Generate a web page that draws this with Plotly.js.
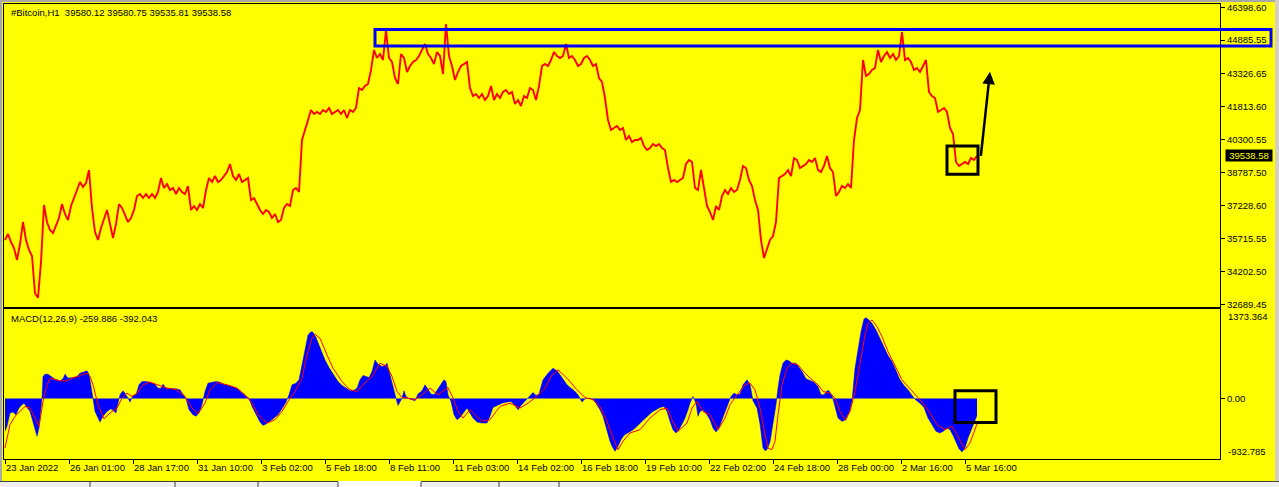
<!DOCTYPE html>
<html>
<head>
<meta charset="utf-8">
<script src="https://cdn.plot.ly/plotly-3.0.1.min.js"></script>
<style>html,body{margin:0;padding:0;background:#FFFF00;}#chart{width:1279px;height:487px;}</style>
</head>
<body>
<div id="chart"></div>
<script>
// ---------- DATA ----------
// Bitcoin H1 close, one reading every 3 bars (bar 0 = 23 Jan 2022 00:00)
const priceStep = 3;
const price = [
35658,35935,35565,35288,34734,35473,36488,35658,35196,34919,33200,32990,34642,37273,36488,36119,35981,36304,36673,37319,
36858,36581,37227,37596,37966,38335,38104,38289,38889,37135,36027,35658,36212,36673,37042,36396,35750,36396,37319,37135,
36765,36488,36673,37042,37689,37781,37596,37781,37596,37781,37596,37873,38520,38058,38243,37966,38058,37781,38058,37873,
37781,38150,37042,37227,37042,37319,37135,37966,38520,38335,38612,38335,38427,38612,38796,39166,38612,38427,38704,38335,
38427,38520,37504,37596,37319,37042,36858,37042,36950,36673,36858,36488,36581,37135,37319,37227,37966,38058,37873,40274,
40735,41197,41658,41474,41566,41474,41658,41566,41751,41474,41566,41658,41474,41658,41289,41658,41566,41751,42674,42582,
42766,42859,43505,44428,44059,44243,43966,45351,44059,43874,43136,42859,44243,44059,43412,43689,43874,43966,44151,44428,
44705,44243,44059,43782,44336,44151,43320,45628,44151,43689,43043,43412,43689,43782,43874,42674,42305,42397,42212,42397,
42120,42305,42766,42120,42397,42212,42489,42582,42397,42489,41935,42120,41843,42305,42212,42674,42582,42120,42766,43689,
43782,43689,43966,44336,44151,44059,44151,44705,44059,44151,43966,43689,43782,44059,44151,43966,43689,43782,43136,42951,
42212,41197,40735,40828,40920,40735,40828,40274,40458,40181,40274,40274,40366,39997,39812,39904,40089,39997,40089,39904,
39812,38981,38335,38427,38335,38427,38520,39166,39350,39258,38058,37966,38889,38058,37227,36950,36581,37227,37042,37689,
37966,37781,38058,37873,37966,38427,39073,38981,38427,38150,37504,37042,35658,34827,35288,35658,35842,36488,38520,38612,
38704,38889,38612,39443,39350,38981,39073,39166,39350,39258,39443,38889,38796,39073,39535,38981,38796,37689,37873,38150,
38058,38243,38058,40274,41289,41658,43966,43228,43320,43505,43597,44428,43874,44151,44336,44059,44243,43966,44151,45259,
43966,44059,43874,43505,43597,43412,43689,43966,42489,42305,42212,41566,41658,41751,41566,40828,40551,39258,39073,39166,
39258,39166,39443,39350,39538.58
];

// MACD(12,26,9) main line (histogram) and signal line, by bar index
const histBar = [0,2,5,8,11,14,17,19,22,25,28,31,32,34,36,37,38,40,43,46,50,55,58,60,63,68,72,75,79,82,84,86,88,90,93,95,98,102,106,109,111,113,115,118,120,123,125,128,131,134,137,141,145,150,153,156,158,161,166,171,175,178,181,184,188,191,194,197,200,203,207,211,215,220,225,229,233,237,241,244,247,251,255,258,261,265,269,273,277,281,284,287,291,294,297,300,303,306,308,311,315,320,324,328,333,337,341,345,348,352,355,358,361,364,367,370,373,377,380,382,385,388,391,393,395,397,399,401,404,407,410,413,417,420,423,426,429,432,436,439,441,443,446,449,452,455,459,462,465,468,472,477,482,485,488,492,497,502,506,510,513,516,520,523,526,528,531,534,538,543,548,552,555,559,562,566,569,573,575,577,580,583,586,589,592,595,598,602,605,607,610,613,616,619,623,627,631,635,639,643,647,651,655,659,662,665,668,671,674,677,680,683,685,688,691,693,695,698,702,705,708,711,714,717,720,723,726,729,732,735,738,742,745,748,752,755,758,760,762,765,768,771,773,775,778,781,784,787,791,794,797,801,805,809,813,816,819,822,824,827,830,833,837,841,844,847,850,853,856,859,861,864,867,871,875,879,883,887,891,895,899,903,907,911,915,919,923,927,931,935,939,942,945,948,951,954,957,960,963,966,969,972];
const histVal = [-507,-430,-225,-210,-251,-148,-97,-72,-138,-200,-364,-558,-584,-456,-200,5,338,374,374,338,297,271,302,374,312,323,338,389,404,425,374,210,0,-200,-312,-364,-276,-200,-159,-200,-225,-72,56,118,82,5,-56,46,56,210,261,261,251,220,159,159,220,159,159,148,133,56,-5,-174,-251,-276,-225,-97,108,236,246,261,251,210,195,169,148,82,31,5,-123,-251,-364,-415,-394,-353,-302,-251,-159,-56,56,210,236,287,517,773,978,1029,1019,937,773,594,476,374,261,200,159,123,118,159,287,353,338,323,415,594,527,492,507,543,364,159,5,-108,-46,5,118,31,-5,-20,-36,67,118,210,133,67,56,133,220,287,261,56,-46,-251,-328,-292,-200,-148,-225,-302,-364,-379,-379,-276,-138,-108,-72,-56,-46,-108,-174,-108,-46,15,56,92,46,67,287,389,466,425,364,271,210,159,123,56,-5,-56,-5,5,5,-26,-97,-174,-276,-507,-660,-737,-814,-737,-635,-568,-532,-492,-445,-379,-323,-266,-210,-174,-138,-123,-200,-353,-481,-532,-481,-394,-302,-174,-72,31,-72,-276,-200,-174,-251,-328,-456,-517,-456,-328,-200,-72,31,82,56,67,210,287,220,-36,-148,-394,-763,-804,-788,-671,-415,-97,159,364,543,594,579,543,543,476,415,302,271,251,184,56,56,118,118,46,-123,-302,-353,-328,-225,-46,466,773,1029,1224,1244,1208,1157,1055,927,783,660,568,415,287,200,133,46,-26,-72,-138,-302,-415,-507,-532,-497,-456,-481,-568,-686,-773,-824,-763,-609,-507,-379,-259.886];
const sigBar = [0,5,10,15,20,25,30,34,38,42,45,50,55,62,67,73,78,82,85,88,93,99,105,112,117,122,127,132,138,145,152,162,172,180,187,193,200,205,212,222,232,240,247,253,262,270,277,283,290,297,302,307,310,315,322,328,337,345,352,358,367,375,382,387,392,397,403,410,417,425,433,443,448,453,458,465,470,477,485,495,505,515,523,532,540,547,553,562,572,580,588,595,602,608,613,618,625,635,645,655,662,667,673,682,687,692,698,705,713,720,725,730,740,745,750,755,760,763,767,770,773,777,782,787,793,800,807,813,818,825,830,835,840,845,850,855,860,863,867,872,877,883,890,897,903,912,918,925,932,940,947,952,957,960,965,972];
const sigVal = [-763,-404,-276,-200,-123,-148,-302,-430,-46,210,312,287,271,271,312,338,374,389,338,210,-97,-312,-225,-148,5,82,31,82,210,251,210,159,133,31,-148,-236,-72,133,246,210,159,56,-72,-251,-379,-328,-200,-46,108,312,671,927,988,927,671,466,261,133,108,210,338,543,492,338,108,15,5,-20,56,159,56,169,5,-200,-302,-174,-251,-353,-328,-123,-72,-148,-72,31,159,364,440,312,133,15,-20,-123,-353,-609,-788,-660,-532,-481,-302,-174,-148,-328,-507,-379,-148,-46,-200,-251,-481,-302,-97,15,210,236,133,-148,-558,-763,-788,-660,-251,210,466,543,517,389,287,210,108,82,5,-200,-328,-200,108,517,978,1157,1208,1106,952,722,492,287,184,31,-72,-225,-404,-481,-430,-558,-712,-788,-686,-392.043];

// Axis labels
const priceTicks = [46398.60,44885.55,43326.65,41813.60,40300.55,38787.50,37228.60,35715.55,34202.50,32689.45];
const timeTickBars = [0,64,128,192,256,320,384,448,512,576,640,704,768,832,896,960];
const timeTickText = ['23 Jan 2022','26 Jan 01:00','28 Jan 17:00','31 Jan 10:00','3 Feb 02:00','5 Feb 18:00','8 Feb 11:00','11 Feb 03:00','14 Feb 02:00','16 Feb 18:00','19 Feb 10:00','22 Feb 02:00','24 Feb 18:00','28 Feb 00:00','2 Mar 16:00','5 Mar 16:00'];
const headerText = '#Bitcoin,H1 \u00a039580.12 39580.75 39535.81 39538.58';
const macdText = 'MACD(12,26,9) -259.886 -392.043';
const lastPrice = 39538.58;
const macdMax = 1373.364, macdMin = -932.785;
// annotation objects (drawn by the chart author)
const zoneBar0 = 370, zoneTop = 45375, zoneBottom = 44610;
const boxBar = [942, 973], boxPrice = [38690, 39996];
const macdBoxBar = [950, 991], macdBoxVal = [-370, 117];
const arrowFrom = [975.7, 39475], arrowTo = [985, 43426];

// ---------- LAYOUT ----------
const W = 1279, H = 487, ML = 4, MR = 59, MT = 4, MB = 28;
const PW = W - ML - MR, PH = H - MT - MB;
const XR = [-1, 1215];
const YR = [32579, 46551];
const PD = [0.3347, 1];
const MD = [0, 0.329];
const pxX = p => (p - ML) / PW;
const pxY = p => (H - MB - p) / PH;
const barX = b => (b - XR[0]) / (XR[1] - XR[0]);
const priceY = v => PD[0] + (v - YR[0]) / (YR[1] - YR[0]) * (PD[1] - PD[0]);

const FONT = {family: 'Liberation Sans, Arial, sans-serif', size: 9.5, color: '#000000'};
const YEL = '#FFFF00';

const priceBars = price.map((_, i) => i * priceStep);

const traces = [
  {x: priceBars, y: price, type: 'scatter', mode: 'lines', line: {color: '#FF0000', width: 1.9}, xaxis: 'x', yaxis: 'y', hoverinfo: 'skip'},
  {x: histBar, y: histVal, type: 'scatter', mode: 'lines', fill: 'tozeroy', fillcolor: '#0000FF', line: {color: '#0000FF', width: 0.5}, xaxis: 'x2', yaxis: 'y2', hoverinfo: 'skip'},
  {x: sigBar, y: sigVal, type: 'scatter', mode: 'lines', line: {color: '#FF0000', width: 1}, xaxis: 'x2', yaxis: 'y2', hoverinfo: 'skip'}
];

const axCommon = {showgrid: false, zeroline: false, showline: true, mirror: true, linecolor: '#000000', linewidth: 1, tickcolor: '#000000', tickfont: FONT, fixedrange: true, tickangle: 0, automargin: false};

const tabEdges = [90, 175, 258, 338, 421, 499, 559];
const tabShapes = tabEdges.map(px => ({type: 'line', xref: 'paper', yref: 'paper', x0: pxX(px), x1: pxX(px), y0: pxY(H), y1: pxY(482), line: {color: '#404040', width: 1}, layer: 'above'}));

const layout = {
  width: W, height: H,
  margin: {l: ML, r: MR, t: MT, b: MB, pad: 0},
  paper_bgcolor: YEL, plot_bgcolor: YEL,
  showlegend: false, hovermode: false,
  xaxis: Object.assign({}, axCommon, {domain: [0, 1], range: XR, anchor: 'y', showticklabels: false, ticks: ''}),
  yaxis: Object.assign({}, axCommon, {domain: PD, range: YR, side: 'right', anchor: 'x', tickmode: 'array', tickvals: priceTicks, ticktext: priceTicks.map(v => v.toFixed(2)), ticks: 'outside', ticklen: 4}),
  xaxis2: Object.assign({}, axCommon, {domain: [0, 1], range: XR, anchor: 'y2', tickmode: 'array', tickvals: timeTickBars, ticktext: timeTickText, ticks: 'outside', ticklen: 4, ticklabelposition: 'outside right', tickangle: 0}),
  yaxis2: Object.assign({}, axCommon, {domain: MD, range: [macdMin, macdMax], side: 'right', anchor: 'x2', tickmode: 'array', tickvals: [0], ticktext: ['0.00'], ticks: 'outside', ticklen: 4}),
  shapes: [
    // window frame
    {type: 'rect', xref: 'paper', yref: 'paper', x0: pxX(0), x1: pxX(2), y0: pxY(H), y1: pxY(0), fillcolor: '#A8A8A8', line: {width: 0}, layer: 'above'},
    {type: 'rect', xref: 'paper', yref: 'paper', x0: pxX(0), x1: pxX(W), y0: pxY(2), y1: pxY(0), fillcolor: '#A8A8A8', line: {width: 0}, layer: 'above'},
    {type: 'rect', xref: 'paper', yref: 'paper', x0: pxX(1275), x1: pxX(W), y0: pxY(481), y1: pxY(0), fillcolor: '#D4D0C8', line: {width: 0}, layer: 'above'},
    {type: 'rect', xref: 'paper', yref: 'paper', x0: pxX(0), x1: pxX(W), y0: pxY(H), y1: pxY(481), fillcolor: '#F0F0F0', line: {width: 0}, layer: 'above'},
    {type: 'rect', xref: 'paper', yref: 'paper', x0: pxX(338), x1: pxX(421), y0: pxY(H), y1: pxY(481), fillcolor: '#FFFFFF', line: {width: 0}, layer: 'above'},
    {type: 'line', xref: 'paper', yref: 'paper', x0: pxX(0), x1: pxX(338), y0: pxY(481.5), y1: pxY(481.5), line: {color: '#404040', width: 1}, layer: 'above'},
    {type: 'line', xref: 'paper', yref: 'paper', x0: pxX(421), x1: pxX(W), y0: pxY(481.5), y1: pxY(481.5), line: {color: '#404040', width: 1}, layer: 'above'},
    ...tabShapes,
    // resistance zone
    {type: 'rect', xref: 'paper', yref: 'paper', x0: barX(zoneBar0), x1: pxX(1271), y0: priceY(zoneBottom), y1: priceY(zoneTop), line: {color: '#0000FF', width: 3}, fillcolor: 'rgba(0,0,0,0)', layer: 'above'},
    // consolidation boxes
    {type: 'rect', xref: 'x', yref: 'y', x0: boxBar[0], x1: boxBar[1], y0: boxPrice[0], y1: boxPrice[1], line: {color: '#000000', width: 3}, layer: 'above'},
    {type: 'rect', xref: 'x2', yref: 'y2', x0: macdBoxBar[0], x1: macdBoxBar[1], y0: macdBoxVal[0], y1: macdBoxVal[1], line: {color: '#000000', width: 3}, layer: 'above'}
  ],
  annotations: [
    {xref: 'paper', yref: 'paper', x: pxX(9), y: pxY(12.5), xanchor: 'left', yanchor: 'middle', text: headerText, showarrow: false, font: FONT},
    {xref: 'paper', yref: 'paper', x: pxX(9), y: pxY(318), xanchor: 'left', yanchor: 'middle', text: macdText, showarrow: false, font: FONT},
    {xref: 'paper', yref: 'y2', x: pxX(1226), y: macdMax, xanchor: 'left', yanchor: 'top', text: macdMax.toFixed(3), showarrow: false, font: FONT},
    {xref: 'paper', yref: 'y2', x: pxX(1226), y: macdMin, xanchor: 'left', yanchor: 'bottom', text: macdMin.toFixed(3), showarrow: false, font: FONT},
    {xref: 'paper', yref: 'y', x: pxX(1225), y: lastPrice, xanchor: 'left', yanchor: 'middle', text: lastPrice.toFixed(2), showarrow: false,
     font: {family: FONT.family, size: 9.5, color: '#FFFF00'}, bgcolor: '#000000', width: 44, height: 9, borderpad: 1},
    {xref: 'x', yref: 'y', axref: 'x', ayref: 'y', x: arrowTo[0], y: arrowTo[1], ax: arrowFrom[0], ay: arrowFrom[1], text: '', showarrow: true,
     arrowhead: 2, arrowsize: 1, arrowwidth: 2.5, arrowcolor: '#000000'}
  ]
};

Plotly.newPlot('chart', traces, layout, {displayModeBar: false, staticPlot: true});
</script>
</body>
</html>
